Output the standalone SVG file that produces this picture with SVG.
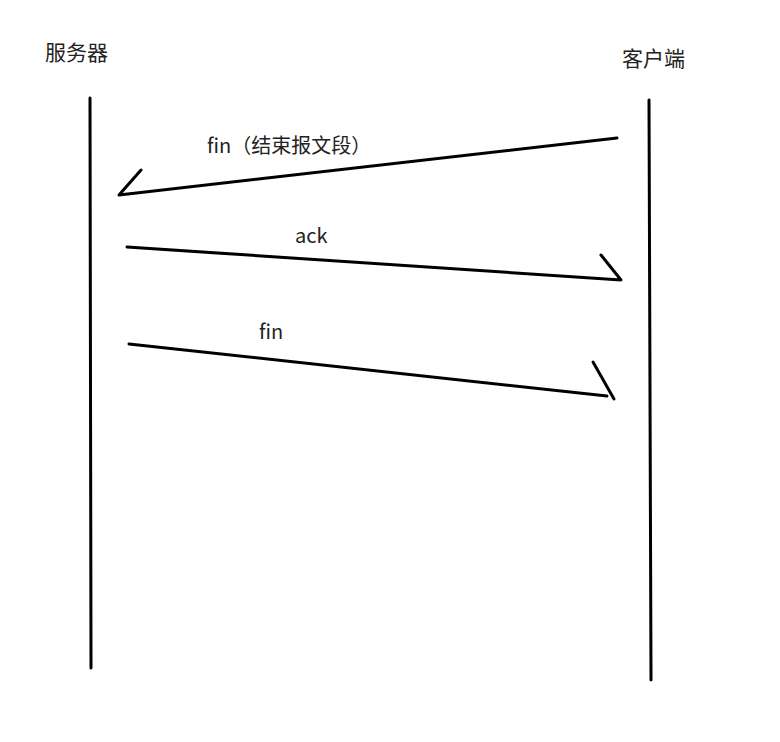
<svg xmlns="http://www.w3.org/2000/svg" width="780" height="742" viewBox="0 0 780 742">
<style>
.ln{stroke:#000;stroke-width:3;fill:none;stroke-linecap:round;stroke-linejoin:round}
.t{font-family:"Noto Sans CJK SC","Noto Sans",sans-serif;font-size:20px;fill:#222}
.h{font-size:21px}
</style>
<rect width="780" height="742" fill="#fff"/>
<g id="server">
<text class="t h" x="45" y="60">服务器</text>
<line class="ln" x1="90" y1="98" x2="91" y2="668"/>
</g>
<g id="client">
<text class="t h" x="622" y="66">客户端</text>
<line class="ln" x1="649" y1="100" x2="651" y2="680"/>
</g>
<g id="connectors">
<polyline class="ln" points="617,138 119,195 141,170"/>
<text class="t" x="207" y="153">fin（结束报文段）</text>
<polyline class="ln" points="127,247 621,280 601,255"/>
<text class="t" x="295" y="243">ack</text>
<line class="ln" x1="129" y1="344" x2="607" y2="396"/>
<line class="ln" x1="593" y1="362" x2="614" y2="399"/>
<text class="t" x="259" y="339">fin</text>
</g>
</svg>
